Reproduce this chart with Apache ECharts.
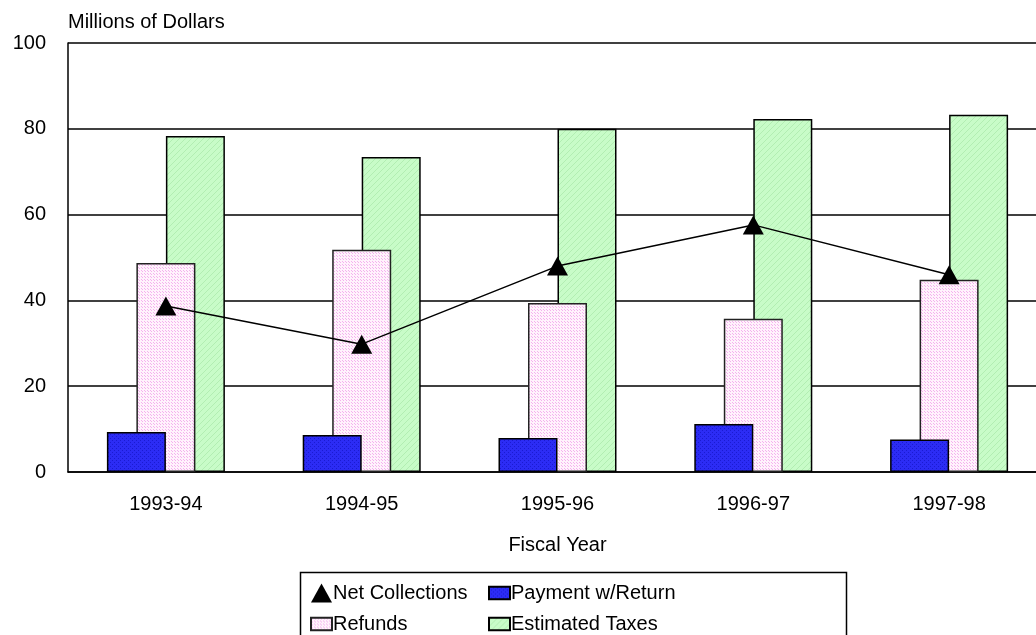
<!DOCTYPE html>
<html>
<head>
<meta charset="utf-8">
<script src="https://cdn.jsdelivr.net/npm/echarts@6/dist/echarts.min.js"></script>
<style>
  html, body { margin: 0; padding: 0; background: #fff; overflow: hidden; }
  /* the plot runs slightly past the right edge of the window */
  #chart { width: 1047px; height: 635px; }
</style>
</head>
<body>
<div id="chart"></div>
<script>
// Fiscal years and amounts (millions of dollars)
const years = ['1993-94', '1994-95', '1995-96', '1996-97', '1997-98'];
const paymentWithReturn = [9.3, 8.6, 7.9, 11.2, 7.6];
const refunds = [48.7, 51.8, 39.4, 35.7, 44.8];
const estimatedTaxes = [78.3, 73.4, 80.0, 82.3, 83.3];
const netCollections = [38.7, 29.8, 48.0, 57.6, 46.0];
const yTicks = [0, 20, 40, 60, 80, 100];

const FONT = '"Liberation Sans", Arial, Helvetica, sans-serif';

// Small tiled textures for the bar fills
function makeTile(size, base, draw) {
  const c = document.createElement('canvas');
  c.width = size; c.height = size;
  const g = c.getContext('2d');
  g.fillStyle = base;
  g.fillRect(0, 0, size, size);
  draw(g);
  return c;
}
const blueTile = makeTile(4, '#2c2cf4', g => {
  g.fillStyle = '#1a1ad2';
  g.fillRect(0, 0, 1, 1);
  g.fillRect(2, 2, 1, 1);
});
const pinkTile = makeTile(3, '#fff2fc', g => {
  g.fillStyle = '#f4b2ee';
  g.fillRect(0, 0, 1, 1);
  g.fillRect(1, 1, 1, 1);
});
const greenTile = makeTile(6, '#c8fcc8', g => {
  g.fillStyle = '#b2eeb2';
  for (let i = 0; i < 6; i++) g.fillRect(i, 5 - i, 1, 1);
});
const fill = tile => ({ image: tile, repeat: 'repeat' });

const chart = echarts.init(document.getElementById('chart'), null, { renderer: 'canvas' });

const legendText = { fontFamily: FONT, fontSize: 20, color: '#000', padding: [0, 0, 0, -4] };
const boxIcon = 'path://M0,0H20V12H0Z';

const option = {
  animation: false,
  backgroundColor: '#fff',
  textStyle: { fontFamily: FONT, color: '#000' },
  grid: { left: 68, top: 43, right: 0, bottom: 163, containLabel: false },
  xAxis: {
    type: 'category',
    data: years,
    name: 'Fiscal Year',
    nameLocation: 'middle',
    nameGap: 63,
    nameTextStyle: { fontFamily: FONT, fontSize: 20, color: '#000' },
    axisLine: { lineStyle: { color: '#000', width: 1.5 } },
    axisTick: { show: false },
    axisLabel: { fontFamily: FONT, fontSize: 20, color: '#000', margin: 22 }
  },
  yAxis: {
    type: 'value',
    min: yTicks[0],
    max: yTicks[yTicks.length - 1],
    interval: yTicks[1] - yTicks[0],
    name: 'Millions of Dollars',
    nameLocation: 'end',
    nameGap: 21,
    nameTextStyle: { fontFamily: FONT, fontSize: 20, color: '#000', align: 'left', verticalAlign: 'middle' },
    axisLine: { show: true, lineStyle: { color: '#000', width: 1.5 } },
    axisTick: { show: false },
    axisLabel: { fontFamily: FONT, fontSize: 20, color: '#000', margin: 22 },
    splitLine: { show: true, lineStyle: { color: '#000', width: 1.5 } }
  },
  legend: [
    {
      orient: 'vertical',
      left: 305, top: 578, height: 120,
      itemWidth: 21, itemHeight: 19, itemGap: 11,
      textStyle: legendText,
      data: [
        { name: 'Net Collections', icon: 'triangle' },
        { name: 'Refunds', icon: boxIcon }
      ]
    },
    {
      orient: 'vertical',
      left: 483, top: 578, height: 120,
      itemWidth: 21, itemHeight: 19, itemGap: 11,
      textStyle: legendText,
      data: [
        { name: 'Payment w/Return', icon: boxIcon },
        { name: 'Estimated Taxes', icon: boxIcon }
      ]
    }
  ],
  graphic: [
    {
      type: 'rect',
      left: 298, top: 570,
      shape: { width: 546, height: 90 },
      style: { fill: 'none', stroke: '#000', lineWidth: 1.5 },
      z: 0
    }
  ],
  series: [
    {
      name: 'Payment w/Return',
      type: 'bar',
      data: paymentWithReturn,
      barWidth: 59,
      barGap: '-50%',
      z: 4,
      itemStyle: { color: fill(blueTile), borderColor: '#000', borderWidth: 1.5 }
    },
    {
      name: 'Refunds',
      type: 'bar',
      data: refunds,
      barWidth: 59,
      barGap: '-50%',
      z: 3,
      itemStyle: { color: fill(pinkTile), borderColor: '#222', borderWidth: 1.5 }
    },
    {
      name: 'Estimated Taxes',
      type: 'bar',
      data: estimatedTaxes,
      barWidth: 59,
      barGap: '-50%',
      z: 2,
      itemStyle: { color: fill(greenTile), borderColor: '#000', borderWidth: 1.5 }
    },
    {
      name: 'Net Collections',
      type: 'line',
      data: netCollections,
      z: 6,
      symbol: 'triangle',
      symbolSize: [21, 19],
      lineStyle: { color: '#000', width: 1.5 },
      itemStyle: { color: '#000' }
    }
  ]
};

chart.setOption(option);
</script>
</body>
</html>
